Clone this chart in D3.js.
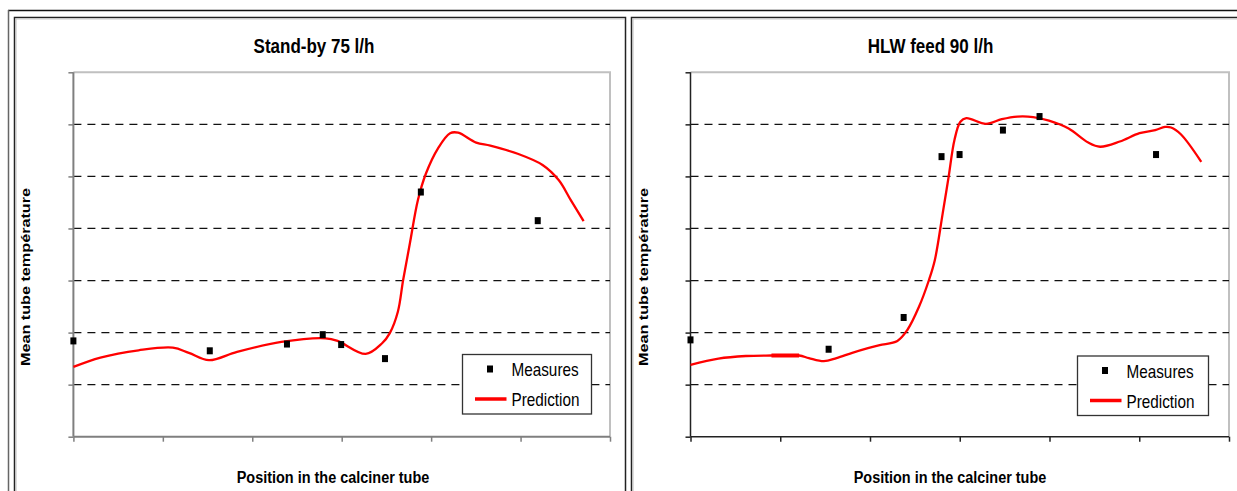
<!DOCTYPE html>
<html><head><meta charset="utf-8">
<script src="https://cdn.jsdelivr.net/npm/d3@7/dist/d3.min.js"></script>
<style>body{margin:0;background:#fff}svg{display:block}</style>
</head><body>
<svg id="c" width="1237" height="491"></svg>
<script>
// ---- data ----
const xTicks = [0, 1, 2, 3, 4, 5, 6];
const yTicks = [0, 100, 200, 300, 400, 500, 600, 700];
const titles = ["Stand-by 75 l/h", "HLW feed 90 l/h"];
const yLabel = "Mean tube température";
const xLabel = "Position in the calciner tube";
const legendLabels = ["Measures", "Prediction"];

const standbyMeasX = [0, 1.525, 2.388, 2.788, 2.994, 3.484, 3.885, 5.192];
const standbyMeasY = [184, 165, 178, 196, 177, 150, 470, 415];
const standbyPredX = [0, 0.302, 0.729, 1.112, 1.291, 1.516, 1.83, 2.325, 2.819, 2.954, 3.268, 3.449, 3.538, 3.628, 3.687, 3.763, 3.853, 3.943, 4.077, 4.212, 4.302, 4.504, 4.662, 4.976, 5.246, 5.426, 5.56, 5.705];
const standbyPredY = [134, 152, 166, 171, 161, 147, 163, 182, 189, 184, 159, 179, 199, 240, 301, 372, 455, 506, 554, 583, 584, 565, 559, 543, 522, 493, 455, 414];

const hlwMeasX = [0, 1.539, 2.375, 2.797, 2.998, 3.481, 3.889, 5.187];
const hlwMeasY = [186, 168, 229, 538, 542, 589, 615, 542];
const hlwPredX = [0, 0.311, 0.617, 0.902, 1.21, 1.319, 1.486, 1.627, 1.802, 1.977, 2.108, 2.305, 2.416, 2.547, 2.657, 2.722, 2.81, 2.876, 2.941, 3.007, 3.073, 3.292, 3.468, 3.643, 3.818, 3.994, 4.213, 4.432, 4.564, 4.783, 5.003, 5.178, 5.287, 5.354, 5.463, 5.691];
const hlwPredY = [138, 150, 155, 156, 156, 151, 145, 151, 161, 170, 176, 184, 205, 250, 301, 339, 429, 499, 570, 605, 612, 601, 610, 615, 614, 607, 592, 565, 557, 567, 583, 589, 595, 594, 581, 528];
const hlwThickRange = [0.9, 1.21];

// ---- drawing ----
const svg = d3.select("#c");
const FONT = "Liberation Sans, Arial, sans-serif";
const SX = 0.85;

// outer frames
svg.append("line").attr("x1", 8).attr("x2", 1237).attr("y1", 10.5).attr("y2", 10.5).attr("stroke", "#111").attr("stroke-width", 1.5);
svg.append("line").attr("x1", 8.5).attr("x2", 8.5).attr("y1", 10).attr("y2", 491).attr("stroke", "#666").attr("stroke-width", 1.5);

const panelsFrame = [{x0: 14.5, x1: 625.5}, {x0: 631.5, x1: 1245}];
panelsFrame.forEach(p => {
  svg.append("path").attr("d", `M${p.x0},495V17.5H${p.x1}V495`).attr("fill", "none").attr("stroke", "#222").attr("stroke-width", 1.5);
  svg.append("line").attr("x1", p.x0 + 1.5).attr("x2", p.x0 + 1.5).attr("y1", 18.5).attr("y2", 491).attr("stroke", "#bbb").attr("stroke-width", 1);
  svg.append("line").attr("x1", p.x0 + 1).attr("x2", p.x1 - 1).attr("y1", 19).attr("y2", 19).attr("stroke", "#ccc").attr("stroke-width", 1);
});

function panel(cfg) {
  const x = d3.scaleLinear().domain([0, 6]).range([cfg.left, cfg.right]);
  const y = d3.scaleLinear().domain([0, 700]).range([436.7, 72.3]);
  const g = svg.append("g");

  // frame top & right (light gray)
  g.append("path").attr("d", `M${x(0)},${y(700)}H${x(6)}V${y(0)}`).attr("fill", "none").attr("stroke", "#c0c0c0").attr("stroke-width", 2);

  // dashed gridlines
  g.selectAll(".grid").data(yTicks.filter(v => v > 0 && v < 700)).join("line")
    .attr("x1", x(0)).attr("x2", x(6)).attr("y1", d => y(d)).attr("y2", d => y(d))
    .attr("stroke", "#111").attr("stroke-width", 1.2).attr("stroke-dasharray", "8,6");

  // axes
  const ya = d3.axisLeft(y).tickValues(yTicks).tickSize(5).tickFormat("");
  const xa = d3.axisBottom(x).tickValues(xTicks).tickSize(5).tickFormat("");
  const gy = g.append("g").attr("transform", `translate(${x(0)},0)`).call(ya);
  const gx = g.append("g").attr("transform", `translate(0,${y(0)})`).call(xa);
  [gy, gx].forEach(a => {
    a.select(".domain").attr("stroke", cfg.axisColor).attr("stroke-width", cfg.axisWidth);
    a.selectAll(".tick line").attr("stroke", cfg.axisColor).attr("stroke-width", 1.5);
  });
  gy.select(".domain").attr("d", `M0,${y(700)}V${y(0)}`);
  gx.select(".domain").attr("d", `M${x(0)},0H${x(6)}`);

  // prediction line
  const pts = cfg.predX.map((v, i) => [v, cfg.predY[i]]);
  const line = d3.line().x(d => x(d[0])).y(d => y(d[1])).curve(d3.curveCatmullRom.alpha(0.5));
  g.append("path").datum(pts).attr("d", line).attr("fill", "none").attr("stroke", "#ff0000").attr("stroke-width", 2.3).attr("stroke-linejoin", "round");
  if (cfg.thick) {
    const sub = pts.filter(d => d[0] >= cfg.thick[0] - 1e-9 && d[0] <= cfg.thick[1] + 1e-9);
    g.append("path").datum(sub).attr("d", d3.line().x(d => x(d[0])).y(d => y(d[1]))).attr("fill", "none").attr("stroke", "#ff0000").attr("stroke-width", 4);
  }

  // measures
  g.selectAll(".m").data(cfg.measX.map((v, i) => [v, cfg.measY[i]])).join("rect")
    .attr("x", d => x(d[0]) - 3).attr("y", d => y(d[1]) - 3.5).attr("width", 6).attr("height", 7).attr("fill", "#000");

  // title
  g.append("text").attr("transform", `translate(${cfg.titleX},53) scale(${SX},1)`)
    .attr("text-anchor", "middle").attr("font-family", FONT).attr("font-weight", "bold").attr("font-size", 20).attr("fill", "#000").text(cfg.title);

  // x label
  g.append("text").attr("transform", `translate(${cfg.xLabelX},483) scale(${SX},1)`)
    .attr("text-anchor", "middle").attr("font-family", FONT).attr("font-weight", "bold").attr("font-size", 17).attr("fill", "#000").text(xLabel);

  // y label
  g.append("text").attr("transform", `translate(${cfg.yLabelX},277) rotate(-90) scale(1,${SX})`)
    .attr("text-anchor", "middle").attr("font-family", FONT).attr("font-weight", "bold").attr("font-size", 15)
    .attr("textLength", 178).attr("lengthAdjust", "spacingAndGlyphs").attr("fill", "#000").text(yLabel);

  // legend
  const L = cfg.legend;
  g.append("rect").attr("x", L.x).attr("y", L.y).attr("width", L.w).attr("height", L.h).attr("fill", "#fff").attr("stroke", "#333").attr("stroke-width", 1.3);
  g.append("rect").attr("x", L.x + 27.5 - 3).attr("y", L.y + 14.5 - 3.5).attr("width", 6).attr("height", 7).attr("fill", "#000");
  g.append("line").attr("x1", L.x + 12.5).attr("x2", L.x + 44).attr("y1", L.y + 44.5).attr("y2", L.y + 44.5).attr("stroke", "#ff0000").attr("stroke-width", 3.5);
  legendLabels.forEach((t, i) => {
    g.append("text").attr("transform", `translate(${L.x + 49},${L.y + 21.5 + i * 30}) scale(${SX},1)`)
      .attr("font-family", FONT).attr("font-size", 18).attr("fill", "#000").text(t);
  });
}

panel({left: 73.4, right: 610, axisColor: "#7f7f7f", axisWidth: 2, predX: standbyPredX, predY: standbyPredY,
  measX: standbyMeasX, measY: standbyMeasY, title: titles[0], titleX: 314, xLabelX: 333, yLabelX: 30,
  legend: {x: 462.5, y: 354.5, w: 129, h: 59.5}});
panel({left: 690.5, right: 1229, axisColor: "#222", axisWidth: 1.5, predX: hlwPredX, predY: hlwPredY,
  measX: hlwMeasX, measY: hlwMeasY, title: titles[1], titleX: 930.5, xLabelX: 950, yLabelX: 648, thick: hlwThickRange,
  legend: {x: 1077.5, y: 356, w: 131, h: 59.5}});
</script>
</body></html>
